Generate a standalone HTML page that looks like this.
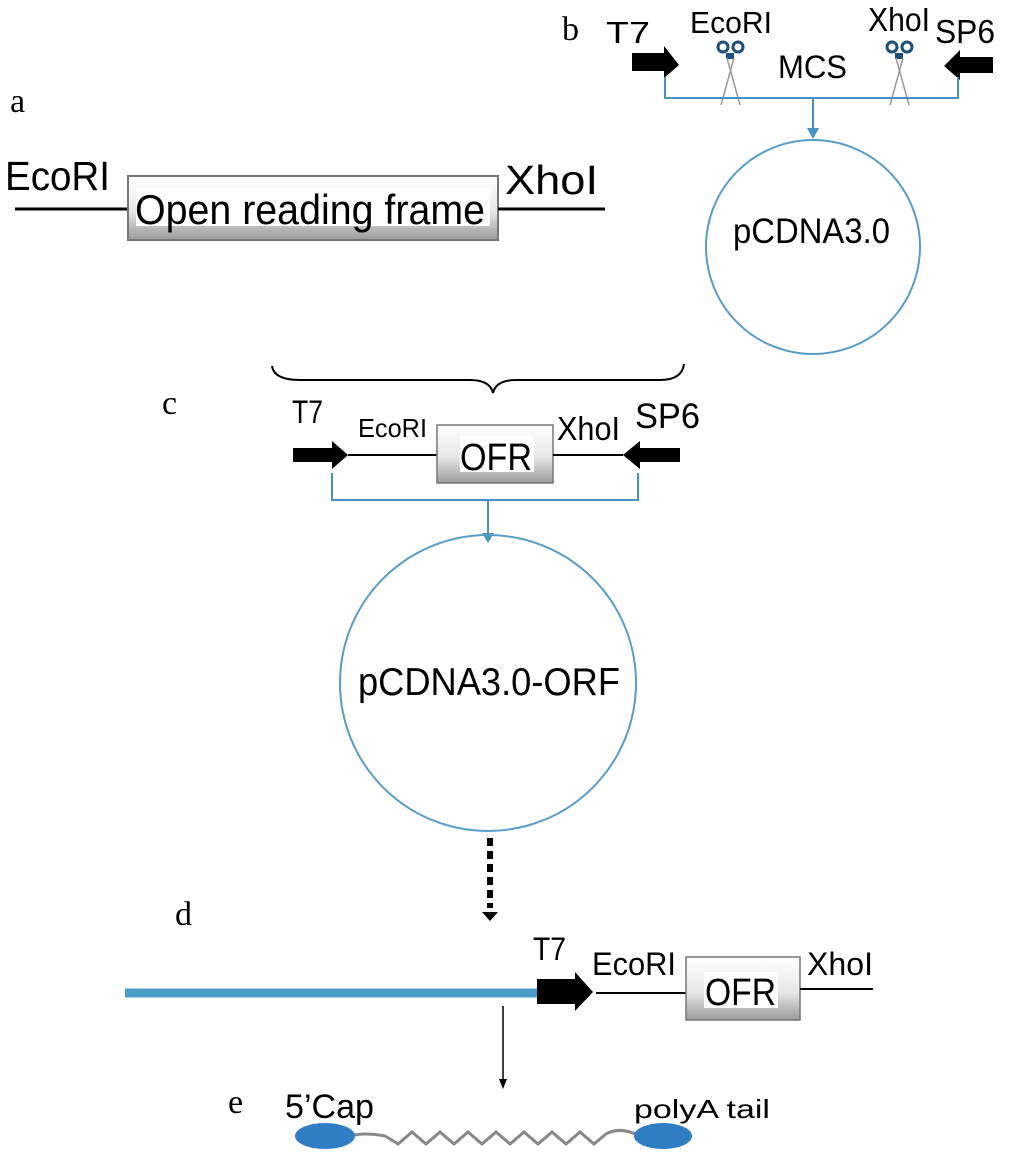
<!DOCTYPE html>
<html><head><meta charset="utf-8"><style>body{margin:0;background:#fff}svg{display:block}text{}</style></head><body>
<svg width="1024" height="1157" viewBox="0 0 1024 1157" xmlns="http://www.w3.org/2000/svg" font-family="Liberation Sans, sans-serif">
<defs>
<linearGradient id="g" x1="0" y1="0" x2="0" y2="1"><stop offset="0" stop-color="#fff"/><stop offset="0.55" stop-color="#e8e8e8"/><stop offset="1" stop-color="#9a9a9a"/></linearGradient>
</defs>
<!-- a -->
<text x="10" y="112" font-family="Liberation Serif, serif" font-size="34">a</text>
<text x="5" y="190" font-size="41" textLength="105" lengthAdjust="spacingAndGlyphs">EcoRI</text>
<line x1="15" y1="209" x2="128" y2="209" stroke="#000" stroke-width="3"/>
<rect x="128" y="176" width="370" height="64" fill="url(#g)" stroke="#777" stroke-width="2"/>
<rect x="136" y="188" width="354" height="38" fill="#fff"/>
<text x="135" y="224" font-size="42" textLength="350" lengthAdjust="spacingAndGlyphs">Open reading frame</text>
<text x="505" y="194" font-size="41" textLength="93" lengthAdjust="spacingAndGlyphs">XhoI</text>
<line x1="498" y1="209" x2="605" y2="209" stroke="#000" stroke-width="3"/>
<!-- b -->
<text x="562" y="40" font-family="Liberation Serif, serif" font-size="34">b</text>
<text x="606" y="43" font-size="31" textLength="44" lengthAdjust="spacingAndGlyphs">T7</text>
<path d="M632,53 H664 V46 L679,65 L664,78 V71 H632 Z" fill="#000"/>
<text x="690" y="33" font-size="31" textLength="82" lengthAdjust="spacingAndGlyphs">EcoRI</text>
<text x="778" y="78" font-size="32" textLength="69" lengthAdjust="spacingAndGlyphs">MCS</text>
<text x="868" y="31" font-size="33" textLength="62" lengthAdjust="spacingAndGlyphs">XhoI</text>
<text x="935" y="43" font-size="33" textLength="60" lengthAdjust="spacingAndGlyphs">SP6</text>
<path d="M993,57 H960 V50 L944,66 L960,80 V73 H993 Z" fill="#000"/>
<g stroke="#1d4f7a" stroke-width="3" fill="none">
<circle cx="723" cy="47" r="5"/><circle cx="738" cy="47" r="5"/><circle cx="892" cy="47" r="5"/><circle cx="907" cy="47" r="5"/></g>
<rect x="726" y="53" width="8" height="6" fill="#1d4f7a"/><rect x="895" y="53" width="8" height="6" fill="#1d4f7a"/>
<g stroke="#999" stroke-width="1.5">
<line x1="727" y1="58" x2="740" y2="105"/><line x1="734" y1="58" x2="721" y2="105"/>
<line x1="896" y1="58" x2="909" y2="105"/><line x1="903" y1="58" x2="890" y2="105"/></g>
<path d="M665,77 V98 H958 V77" fill="none" stroke="#4a90c0" stroke-width="2"/>
<line x1="813" y1="98" x2="813" y2="130" stroke="#4a90c0" stroke-width="2"/>
<path d="M807,128 H819 L813,139 Z" fill="#4a90c0"/>
<circle cx="813" cy="247" r="107" fill="none" stroke="#5a9cc8" stroke-width="2"/>
<text x="733" y="243" font-size="35" textLength="157" lengthAdjust="spacingAndGlyphs">pCDNA3.0</text>
<!-- c -->
<path d="M272,366 Q274,380 300,380 H470 Q490,380 493,393 Q496,380 516,380 H660 Q682,380 684,364" fill="none" stroke="#000" stroke-width="2"/>
<text x="162" y="414" font-family="Liberation Serif, serif" font-size="34">c</text>
<text x="292" y="423" font-size="32" textLength="31" lengthAdjust="spacingAndGlyphs">T7</text>
<path d="M293,448 H332 V441 L348,455 L332,469 V462 H293 Z" fill="#000"/>
<text x="358" y="437" font-size="26" textLength="69" lengthAdjust="spacingAndGlyphs">EcoRI</text>
<line x1="348" y1="455" x2="437" y2="455" stroke="#000" stroke-width="2"/>
<rect x="437" y="425" width="116" height="58" fill="url(#g)" stroke="#777" stroke-width="1.5"/>
<rect x="460" y="436" width="74" height="36" fill="#fff"/>
<text x="460" y="470" font-size="38" textLength="72" lengthAdjust="spacingAndGlyphs">OFR</text>
<line x1="553" y1="455" x2="623" y2="455" stroke="#000" stroke-width="2"/>
<text x="557" y="440" font-size="33" textLength="63" lengthAdjust="spacingAndGlyphs">XhoI</text>
<text x="635" y="428" font-size="35" textLength="65" lengthAdjust="spacingAndGlyphs">SP6</text>
<path d="M680,448 H640 V441 L623,455 L640,469 V462 H680 Z" fill="#000"/>
<path d="M332,473 V500 H638 V473" fill="none" stroke="#4a90c0" stroke-width="2"/>
<line x1="488" y1="500" x2="488" y2="535" stroke="#4a90c0" stroke-width="2"/>
<path d="M482,533 H494 L488,543 Z" fill="#4a90c0"/>
<circle cx="488" cy="683" r="148" fill="none" stroke="#5a9cc8" stroke-width="2"/>
<text x="358" y="695" font-size="39" textLength="262" lengthAdjust="spacingAndGlyphs">pCDNA3.0-ORF</text>
<!-- dashed -->
<line x1="490" y1="838" x2="490" y2="908" stroke="#000" stroke-width="6" stroke-dasharray="8,5"/>
<path d="M482,912 H498 L490,921 Z" fill="#000"/>
<!-- d -->
<text x="175" y="925" font-family="Liberation Serif, serif" font-size="34">d</text>
<line x1="125" y1="993" x2="537" y2="993" stroke="#4a9cc9" stroke-width="9"/>
<path d="M537,979 H575 V972 L593,992 L575,1011 V1004 H537 Z" fill="#000"/>
<text x="533" y="960" font-size="32" textLength="33" lengthAdjust="spacingAndGlyphs">T7</text>
<text x="592" y="975" font-size="32" textLength="84" lengthAdjust="spacingAndGlyphs">EcoRI</text>
<line x1="596" y1="993" x2="686" y2="993" stroke="#000" stroke-width="2"/>
<rect x="686" y="957" width="114" height="63" fill="url(#g)" stroke="#777" stroke-width="1.5"/>
<rect x="704" y="972" width="74" height="36" fill="#fff"/>
<text x="705" y="1005" font-size="38" textLength="71" lengthAdjust="spacingAndGlyphs">OFR</text>
<text x="807" y="975" font-size="32" textLength="66" lengthAdjust="spacingAndGlyphs">XhoI</text>
<line x1="800" y1="989" x2="873" y2="989" stroke="#000" stroke-width="2"/>
<line x1="503" y1="1006" x2="503" y2="1082" stroke="#000" stroke-width="1.5"/>
<path d="M499,1079 H507 L503,1089 Z" fill="#000"/>
<!-- e -->
<text x="228" y="1113" font-family="Liberation Serif, serif" font-size="34">e</text>
<text x="285" y="1118" font-size="34" textLength="89" lengthAdjust="spacingAndGlyphs">5’Cap</text>
<text x="634" y="1118" font-size="26" textLength="136" lengthAdjust="spacingAndGlyphs">polyA tail</text>
<path d="M350,1136 Q365,1132 385,1136 Q392,1140 398,1144 L412,1132 L426,1144 L440,1132 L454,1144 L468,1132 L482,1144 L496,1132 L510,1144 L524,1132 L538,1144 L552,1132 L566,1144 L580,1132 L594,1144 L606,1134 Q620,1126 640,1136" fill="none" stroke="#888" stroke-width="3"/>
<ellipse cx="325" cy="1136" rx="30" ry="13" fill="#2f7ec4"/>
<ellipse cx="663" cy="1136" rx="29" ry="13" fill="#2f7ec4"/>
</svg>
</body></html>
